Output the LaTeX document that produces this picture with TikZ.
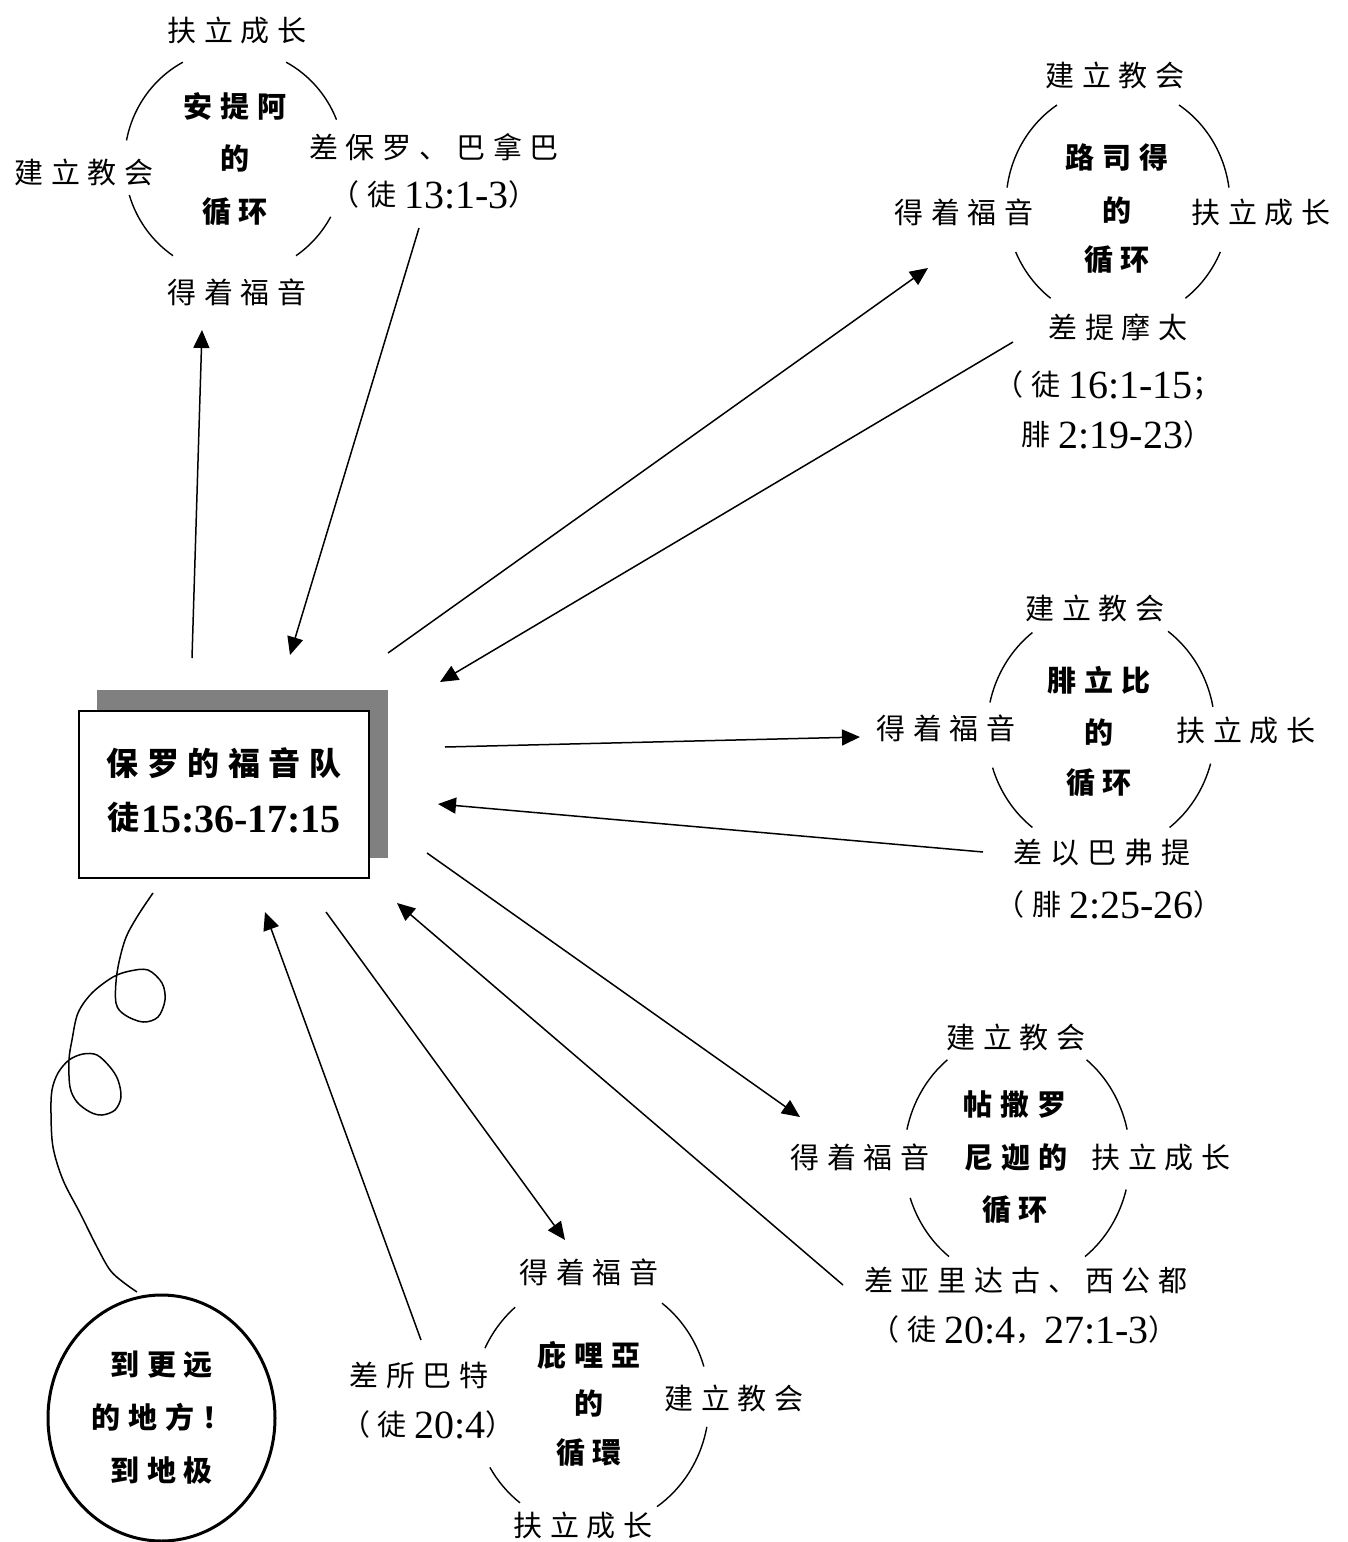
\documentclass[tikz,border=0pt]{standalone}
\usepackage{fontspec}
\setmainfont{Noto Sans CJK SC}[LetterSpace=27]
\newfontfamily\numf{Liberation Serif}
\usetikzlibrary{arrows.meta,shapes.geometric}
\newcommand\cyc[4]{\foreach \a/\b in {#4}{\draw[cycarc] (#1) ++(\a:#2 and #3) arc[start angle=\a,end angle=\b,x radius=#2,y radius=#3];}}
\newcommand\nm[1]{\raisebox{-1.6pt}{\numf\fontsize{20}{24}\selectfont #1}}
\begin{document}
\begin{tikzpicture}[x=0.5pt,y=-0.5pt,
  lab/.style={font=\fontsize{14.5}{17}\selectfont, inner sep=0pt},
  ctr/.style={font=\fontsize{14.5}{17}\selectfont\bfseries, inner sep=0pt},
  cycarc/.style={line width=0.7pt},
  arr/.style={line width=0.75pt, -{Triangle[length=9pt,width=8pt]}},
]
\useasboundingbox (0,0) rectangle (1348,1542);

% ---------- main box ----------
\fill[black!50] (97,690) rectangle (388,858);
\node[draw, line width=1pt, fill=white, minimum width=145pt, minimum height=83.5pt, inner sep=0pt] (box) at (224,794.5) {};
\node[inner sep=0pt, align=center, font=\fontsize{16}{27}\selectfont\bfseries] (boxtxt) at (224,790) {保罗的福音队\\徒\hspace{1pt}\nm{\bfseries 15:36-17:15}};

% ---------- far circle ----------
\node[draw, ellipse, line width=1.5pt, minimum width=113.5pt, minimum height=123pt, inner sep=0pt,
      align=center, font=\fontsize{14.5}{26.5}\selectfont\bfseries] (far) at (161.5,1418) {到更远\\的地方！\\到地极};

% ---------- cycle 1: Antioch ----------
\coordinate (c1) at (234.5,162);
\cyc{c1}{110}{113}{-22/-62,-118/-169,-197/-236,-304/-331}
\node[ctr] (c1a) at (235,107) {安提阿};
\node[ctr] (c1b) at (235,158) {的};
\node[ctr] (c1c) at (235,212) {循环};
\node[lab] (c1top) at (237,30) {扶立成长};
\node[lab] (c1left) at (84,172) {建立教会};
\node[lab] (c1bot) at (237,292) {得着福音};
\node[lab] (c1right) at (434,147) {差保罗、巴拿巴};
\node[lab] (c1ref) at (434,195) {（徒\hspace{4pt}\nm{13:1-3}）};

% ---------- cycle 2: Lystra ----------
\coordinate (c2) at (1118,204);
\cyc{c2}{112}{118}{-8/-57,-123/-172,-204/-233,-307/-336}
\node[ctr] (c2a) at (1117,157) {路司得};
\node[ctr] (c2b) at (1117,210) {的};
\node[ctr] (c2c) at (1117,260) {循环};
\node[lab] (c2top) at (1115,75) {建立教会};
\node[lab] (c2left) at (964,212) {得着福音};
\node[lab] (c2right) at (1261,212) {扶立成长};
\node[lab] (c2bot) at (1118,327) {差提摩太};
\node[lab] (c2ref1) at (1108,385) {（徒\hspace{4pt}\nm{16:1-15}；};
\node[lab] (c2ref2) at (1117,435) {腓\hspace{4pt}\nm{2:19-23}）};

% ---------- cycle 3: Philippi ----------
\coordinate (c3) at (1101,730);
\cyc{c3}{114}{122}{-11/-54,-127/-167,-198/-233,-307/-344}
\node[ctr] (c3a) at (1099,680) {腓立比};
\node[ctr] (c3b) at (1099,732) {的};
\node[ctr] (c3c) at (1099,783) {循环};
\node[lab] (c3top) at (1095,608) {建立教会};
\node[lab] (c3left) at (946,728) {得着福音};
\node[lab] (c3right) at (1246,730) {扶立成长};
\node[lab] (c3bot) at (1102,853) {差以巴弗提};
\node[lab] (c3ref) at (1109,905) {（腓\hspace{4pt}\nm{2:25-26}）};

% ---------- cycle 4: Thessalonica ----------
\coordinate (c4) at (1017,1157.5);
\cyc{c4}{113}{124}{-13/-52,-128/-167,-199/-233,-307/-345}
\node[ctr] (c4a) at (1015,1105) {帖撒罗};
\node[ctr] (c4b) at (1016,1157) {尼迦的};
\node[ctr] (c4c) at (1015,1210) {循环};
\node[lab] (c4top) at (1016,1037) {建立教会};
\node[lab] (c4left) at (860,1157) {得着福音};
\node[lab] (c4right) at (1161,1157) {扶立成长};
\node[lab] (c4bot) at (1026,1280) {差亚里达古、西公都};
\node[lab] (c4ref) at (1024,1330) {（徒\hspace{4pt}\nm{20:4}，\nm{27:1-3}）};

% ---------- cycle 5: Berea ----------
\coordinate (c5) at (591,1403);
\cyc{c5}{118}{125}{-17/-53,-130/-154,-211/-233,-304/-349}
\node[ctr] (c5a) at (589,1355) {庇哩亞};
\node[ctr] (c5b) at (589,1403) {的};
\node[ctr] (c5c) at (589,1453) {循環};
\node[lab] (c5top) at (589,1272) {得着福音};
\node[lab] (c5left) at (419,1375) {差所巴特};
\node[lab] (c5ref) at (428,1425) {（徒\hspace{4pt}\nm{20:4}）};
\node[lab] (c5right) at (734,1398) {建立教会};
\node[lab] (c5bot) at (583,1525) {扶立成长};

% ---------- arrow end points ----------
\coordinate (a1s) at (192,658);  \coordinate (a1e) at (202,330);
\coordinate (a2s) at (419,228);  \coordinate (a2e) at (290,655);
\coordinate (a3s) at (388,653);  \coordinate (a3e) at (928,268);
\coordinate (a4s) at (1013,342); \coordinate (a4e) at (440,682);
\coordinate (a5s) at (445,747);  \coordinate (a5e) at (860,737);
\coordinate (a6s) at (983,852);  \coordinate (a6e) at (438,804);
\coordinate (a7s) at (427,853);  \coordinate (a7e) at (800,1117);
\coordinate (a8s) at (843,1285); \coordinate (a8e) at (397,903);
\coordinate (a9s) at (326,912);  \coordinate (a9e) at (565,1240);
\coordinate (a10s) at (421,1340); \coordinate (a10e) at (265,912);

\foreach \i in {1,...,10} {\draw[arr] (a\i s) -- (a\i e);}

% ---------- curly line ----------
\draw[line width=0.75pt] plot[smooth, tension=0.55] coordinates {
 (153,893) (137,917) (125,940) (117,973) (116,1003) (125,1015) (143,1022) (158,1017)
 (165,1000) (162,983) (148,970) (130,971) (113,977) (92,993) (78,1013) (72,1040)
 (69,1060) (70,1087) (77,1102) (90,1112) (102,1115) (115,1110) (121,1097) (118,1080)
 (110,1067) (97,1055) (83,1054) (69,1060) (58,1073) (52,1090) (51,1113) (53,1147)
 (63,1180) (80,1213) (97,1247) (110,1270) (123,1282) (137,1292)};
\end{tikzpicture}
\end{document}
